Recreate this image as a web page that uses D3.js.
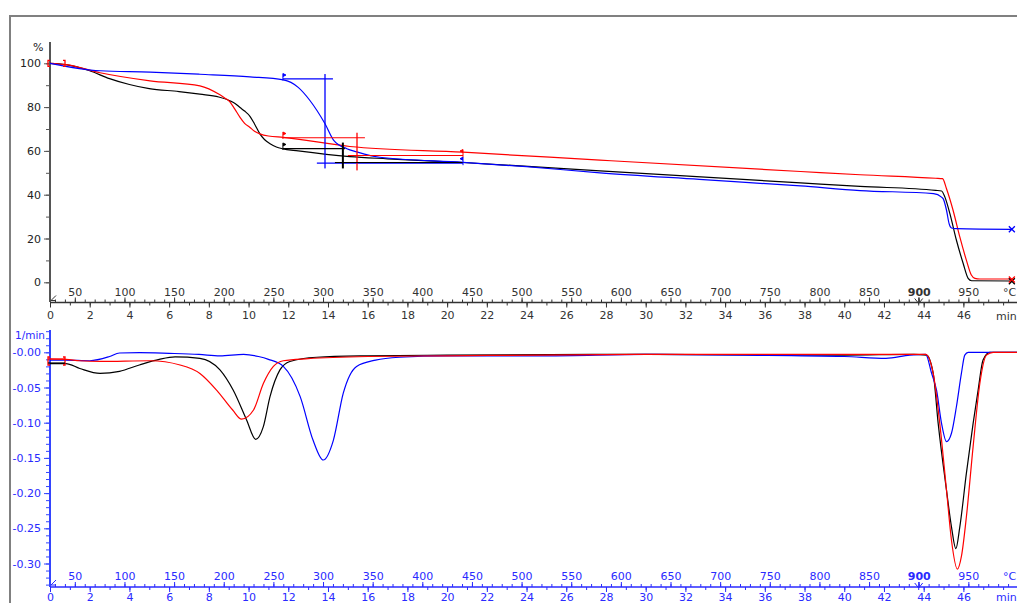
<!DOCTYPE html>
<html>
<head>
<meta charset="utf-8">
<script src="https://cdn.jsdelivr.net/npm/d3@7"></script>
<style>
  body { margin: 0; background: white; }
  text { font-family: "DejaVu Sans", Verdana, sans-serif; font-size: 11px; }
</style>
</head>
<body>
<div id="chart"></div>
<script>
// chart data (time in min, TG in %, DTG in 1/min)

tgBlack = [[0,100],[0.8,99.4],[2,96.6],[3,93],[4,90.3],[5,88.4],[6.5,87.1],[7.55,85.9],[8.5,84.6],[9.06,82.9],
  [9.3,81.8],[9.57,79.8],[9.8,78.2],[10.07,75.8],[10.3,72.3],[10.57,67.8],[10.8,65.2],[11.08,63.3],
  [11.4,61.8],[11.7,61],[12.5,60],[15.1,57.4],[17,56.4],[20.8,54.7],
  [27.7,50.9],[37.8,45.4],[40.8,43.8],[44.6,42],[44.9,41.7],[45.07,38.9],[45.32,31.4],[45.65,19.2],
  [45.99,8.6],[46.24,1.8],[46.41,0.7],[48.42,0.6]];
tgRed = [[0,100],[0.8,99.4],[2.52,95.7],[5.04,92],[7.55,89.7],[8.56,85.6],[8.8,84.2],[9.06,82.4],
  [9.3,79.2],[9.57,75.3],[9.8,72.6],[10.07,70.7],[10.3,69],[10.57,67.8],[11,66.8],[11.75,66.2],
  [15.1,62],[20.8,59.4],[27.7,55.8],[37.8,50.6],[40.8,49.1],
  [44.6,47.5],[44.95,47.3],[45.15,42.7],[45.48,32.9],[45.82,20.7],[46.15,10.1],[46.4,3.3],[46.58,1.8],
  [46.83,1.5],[48.42,1.5]];
tgBlue = [[0,100],[2.52,96.6],[5.04,96],[7.55,95],[10.07,93.8],[11.75,92.4],[12.5,89],[13.1,82.9],
  [13.85,72.4],[14.3,64.7],[14.95,61],[15.44,59.6],[16.6,57.1],[20.8,54.8],[24,52.8],[27.7,50],
  [32.7,47],[37.8,44],[40.8,41.9],[44.5,40.5],[44.9,38.9],[44.98,38.2],[45.15,32.9],[45.28,26.8],
  [45.4,24.8],[45.65,24.5],[48.42,24.2]];

dtgBlack = [[0,-0.016],[0.8,-0.016],[1.5,-0.023],[2.52,-0.030],[3.5,-0.027],[4.5,-0.018],[5.5,-0.010],
  [6.3,-0.0065],[7.55,-0.0085],[8.56,-0.025],[9.23,-0.054],[9.9,-0.096],[10.36,-0.1236],[10.74,-0.106],
  [11.08,-0.063],[11.58,-0.025],[12.08,-0.013],[13.43,-0.007],[16,-0.005],[20,-0.004],[30,-0.003],
  [40,-0.004],[43.5,-0.003],[44.14,-0.004],[44.48,-0.030],[44.73,-0.101],[45.15,-0.196],[45.4,-0.248],
  [45.62,-0.279],[45.82,-0.248],[46.15,-0.172],[46.49,-0.101],[46.74,-0.054],[46.99,-0.011],
  [47.33,0],[48.7,0]];
dtgRed = [[0,-0.0095],[0.8,-0.010],[1.5,-0.012],[2.52,-0.013],[5.04,-0.012],[6.55,-0.018],[7.55,-0.030],
  [8.4,-0.054],[9.2,-0.082],[9.65,-0.095],[10.25,-0.082],[10.75,-0.044],[11.25,-0.020],[11.75,-0.012],
  [13,-0.009],[16,-0.006],[20,-0.005],[30,-0.003],[40,-0.003],[44.1,-0.003],[44.48,-0.030],
  [44.81,-0.101],[45.15,-0.196],[45.4,-0.267],[45.7,-0.308],[45.9,-0.290],[46.15,-0.234],
  [46.49,-0.134],[46.83,-0.044],[47.16,-0.004],[47.5,0],[48.7,0]];
dtgBlue = [[0,-0.011],[0.8,-0.011],[2,-0.012],[3,-0.006],[3.5,-0.001],[4.5,-0.0005],[6,-0.0015],
  [7.5,-0.003],[8.56,-0.005],[9.75,-0.003],[10.5,-0.006],[11,-0.010],[11.75,-0.020],[12.6,-0.063],
  [13.25,-0.125],[13.76,-0.153],[14.27,-0.125],[14.77,-0.058],[15.44,-0.020],[16.4,-0.011],
  [17.6,-0.007],[20,-0.005],[25,-0.005],[30,-0.003],[35,-0.004],[40,-0.006],[42.1,-0.0085],
  [43.3,-0.004],[44.1,-0.003],[44.4,-0.030],[44.65,-0.054],[44.9,-0.101],[45.15,-0.127],
  [45.4,-0.115],[45.65,-0.077],[45.9,-0.030],[46.07,-0.004],[46.24,0],[48.7,0]];

// step evaluation lines: [t1, v1, t2, v2]
stepBlue = [[11.73,92.9,14.25,92.9],[13.85,95.1,13.85,52],[13.44,54.4,20.8,54.4]];
stepRed = [[11.73,66,15.86,66],[15.46,68.3,15.46,51.1],[15.0,57.9,20.8,57.9]];
stepBlack = [[11.73,61,14.85,61],[14.75,63.8,14.75,52],[14.35,54.7,20.8,54.7]];
flagsRight = [[11.73,93.5,"blue"],[11.73,66.8,"red"],[11.73,61.8,"black"]];
flagsLeft = [[20.8,58.8,"red"],[20.8,55.3,"blue"]];
endMarks = [[48.44,24.2,"blue"],[48.44,0.5,"black"],[48.44,1.3,"red"]];

tgTicks = [0,20,40,60,80,100];
dtgTicks = [0,-0.05,-0.10,-0.15,-0.20,-0.25,-0.30];
tempTicks = d3.range(50,1000,50);
timeTicks = d3.range(0,48,2);

width = 1017;
height = 603;

svg = d3.select("#chart").append("svg")
  .attr("width", width).attr("height", height);

// frame
svg.append("rect").attr("x",10).attr("y",16).attr("width",1030).attr("height",620)
  .attr("fill","none").attr("stroke","#808080").attr("stroke-width",2);

xT = d3.scaleLinear().domain([0,48.7]).range([50,1017]);
xC = d3.scaleLinear().domain([25,25+20*48.7]).range([50,1017]);
yTG = d3.scaleLinear().domain([0,100]).range([282.3,63.3]);
yDTG = d3.scaleLinear().domain([0,-0.3]).range([352.3,563.5]);

function drawXAxes(y0, color, pad) {
  var g = svg.append("g").attr("transform",`translate(0,${y0})`);
  // minor temperature ticks
  g.append("g").call(d3.axisTop(xC).tickValues(d3.range(30,1010,10)).tickSize(3).tickFormat(""))
    .call(a => a.select(".domain").remove());
  var ta = g.append("g").call(d3.axisTop(xC).tickValues(tempTicks).tickSize(5).tickSizeOuter(0).tickPadding(2));
  ta.select(".domain").remove();
  ta.selectAll("text").filter(d => d===900).attr("font-weight","bold");
  g.append("g").call(d3.axisBottom(xT).tickValues(d3.range(1,49,1)).tickSize(3).tickFormat(""))
    .call(a => a.select(".domain").remove());
  var tb = g.append("g").call(d3.axisBottom(xT).tickValues(timeTicks).tickSize(5).tickSizeOuter(0).tickPadding(pad));
  tb.select(".domain").remove();
  g.append("line").attr("x1",50).attr("x2",1017).attr("stroke",color).attr("stroke-width",1.5);
  g.append("text").attr("x",1003).attr("y",-7).text("°C");
  g.append("text").attr("x",996).attr("y",9 + pad + 4).text("min");
  // start marker and 900 marker
  g.append("path").attr("d","M51,-2 L56,-7 M51,-2 L56,-2").attr("fill","none").attr("stroke",color);
  var x9 = xC(900);
  g.append("path").attr("d",`M${x9-4},-4 L${x9},1 L${x9+4},-4 M${x9},-5 L${x9},3`)
    .attr("fill","none").attr("stroke",color);
  g.selectAll("line").attr("stroke",color);
  g.selectAll("path").attr("stroke",color);
  g.selectAll("text").attr("fill",color).style("font-size","11px");
  g.selectAll(".tick text").style("font-family",'"DejaVu Sans", Verdana, sans-serif');
}

// upper panel axes
upperY = svg.append("g").attr("transform","translate(50,0)");
upperY.append("g").call(d3.axisLeft(yTG).tickValues(d3.range(0,101,10)).tickSize(4).tickFormat(""))
  .call(a => a.select(".domain").remove());
upperY.append("g").call(d3.axisLeft(yTG).tickValues(tgTicks).tickSize(6).tickPadding(3))
  .call(a => a.select(".domain").remove());
upperY.append("line").attr("y1",42).attr("y2",302).attr("stroke-width",2);
upperY.selectAll("line").attr("stroke","#555");
upperY.selectAll("text").attr("fill","#222");
svg.append("text").attr("x",33).attr("y",51).attr("fill","#222").text("%");
drawXAxes(302.5, "#333", 4);

// lower panel axes
lowerY = svg.append("g").attr("transform","translate(50,0)");
lowerY.append("g").call(d3.axisLeft(yDTG).tickValues(d3.range(3,-34,-1).map(d => d/100)).tickSize(4).tickFormat(""))
  .call(a => a.select(".domain").remove());
lowerY.append("g").call(d3.axisLeft(yDTG).tickValues(dtgTicks).tickSize(6).tickPadding(3)
    .tickFormat(d => "-" + Math.abs(d).toFixed(2)))
  .call(a => a.select(".domain").remove());
lowerY.append("line").attr("y1",330).attr("y2",587).attr("stroke-width",2);
lowerY.selectAll("line").attr("stroke","#3344ff");
lowerY.selectAll("text").attr("fill","#2a2aff");
svg.append("text").attr("x",15).attr("y",339).attr("fill","#2a2aff").style("font-size","10.5px").text("1/min");
drawXAxes(587, "#2a2aff", 1);

svg.selectAll(".tick text").style("font-size","11px");

// curves
tgLine = d3.line().x(d => xT(d[0])).y(d => yTG(d[1])).curve(d3.curveMonotoneX);
dtgLine = d3.line().x(d => xT(d[0])).y(d => yDTG(d[1])).curve(d3.curveMonotoneX);

[[tgBlack,"black"],[tgRed,"red"],[tgBlue,"blue"]].forEach(s => {
  svg.append("path").datum(s[0]).attr("d",tgLine).attr("fill","none")
    .attr("stroke",s[1]).attr("stroke-width",1.2);
});
[[dtgBlack,"black"],[dtgBlue,"blue"],[dtgRed,"red"]].forEach(s => {
  svg.append("path").datum(s[0]).attr("d",dtgLine).attr("fill","none")
    .attr("stroke",s[1]).attr("stroke-width",1.2);
});

// step evaluation
[[stepBlue,"blue"],[stepRed,"red"],[stepBlack,"black"]].forEach(s => {
  svg.selectAll(null).data(s[0]).join("line")
    .attr("x1",d => xT(d[0])).attr("y1",d => yTG(d[1]))
    .attr("x2",d => xT(d[2])).attr("y2",d => yTG(d[3]))
    .attr("stroke",s[1])
    .attr("stroke-width",(d,i) => i===1 ? 2 : 1.2)
    .attr("opacity",(d,i) => (i===1 && s[1]!=="black") ? 0.65 : 1);
});
flagsRight.forEach(f => {
  var x = xT(f[0]), y = yTG(f[1]);
  svg.append("path").attr("d",`M${x},${y+3} L${x},${y-4} L${x+3},${y-2.5} L${x},${y-1}`)
    .attr("fill",f[2]).attr("stroke",f[2]).attr("stroke-width",1);
});
flagsLeft.forEach(f => {
  var x = xT(f[0]), y = yTG(f[1]);
  svg.append("path").attr("d",`M${x},${y+4} L${x},${y-4} L${x-3},${y-2.5} L${x},${y-1}`)
    .attr("fill",f[2]).attr("stroke",f[2]).attr("stroke-width",1);
});
endMarks.forEach(m => {
  var x = xT(m[0]), y = yTG(m[1]);
  svg.append("path").attr("d",`M${x-3},${y-3} L${x+3},${y+3} M${x-3},${y+3} L${x+3},${y-3}`)
    .attr("stroke",m[2]).attr("stroke-width",1.3);
});

// evaluation limits at start (red brackets)
function bracket(yc, h) {
  [[48,1],[65,-1]].forEach(b => {
    var x = b[0], d = b[1]*2;
    svg.append("path").attr("d",`M${x+d},${yc-h} L${x},${yc-h} L${x},${yc+h} L${x+d},${yc+h}`)
      .attr("fill","none").attr("stroke","red").attr("stroke-width",1.3);
  });
}
bracket(yTG(100), 3);
bracket(361, 4);
svg.append("line").attr("x1",48).attr("x2",65).attr("y1",359).attr("y2",359).attr("stroke","red").attr("stroke-width",1.2);
svg.append("line").attr("x1",48).attr("x2",65).attr("y1",363).attr("y2",363).attr("stroke","black").attr("stroke-width",1.2);
</script>
</body>
</html>
